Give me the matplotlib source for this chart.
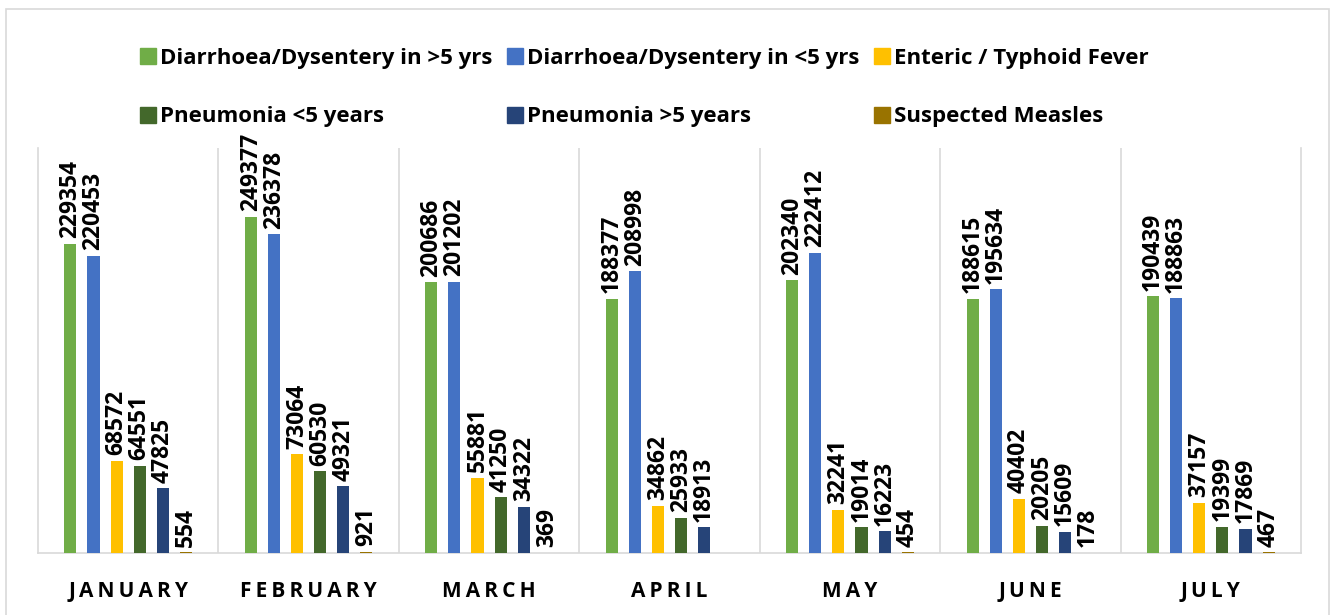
import numpy as np
import matplotlib
matplotlib.use("Agg")
import matplotlib.pyplot as plt
from matplotlib.lines import Line2D

plt.rcParams['font.family'] = ['Open Sans', 'DejaVu Sans']

months = ["JANUARY", "FEBRUARY", "MARCH", "APRIL", "MAY", "JUNE", "JULY"]
series_names = [
    "Diarrhoea/Dysentery in >5 yrs",
    "Diarrhoea/Dysentery in <5 yrs",
    "Enteric / Typhoid Fever",
    "Pneumonia <5 years",
    "Pneumonia >5 years",
    "Suspected Measles",
]
diarrhoea_over5 = [229354, 249377, 200686, 188377, 202340, 188615, 190439]
diarrhoea_under5 = [220453, 236378, 201202, 208998, 222412, 195634, 188863]
typhoid = [68572, 73064, 55881, 34862, 32241, 40402, 37157]
pneumonia_under5 = [64551, 60530, 41250, 25933, 19014, 20205, 19399]
pneumonia_over5 = [47825, 49321, 34322, 18913, 16223, 15609, 17869]
measles = [554, 921, 369, None, 454, 178, 467]

colors = ["#70AD47", "#4472C4", "#FFC000", "#43682B", "#264478", "#997300"]
all_series = [diarrhoea_over5, diarrhoea_under5, typhoid,
              pneumonia_under5, pneumonia_over5, measles]

fig = plt.figure(figsize=(13.31, 6.15), dpi=100)
ax = fig.add_axes([0.0285, 0.1008, 0.949, 0.658])

x = np.arange(len(months))
step = 0.128
width = 0.067
handles = []
for i, (vals, c, name) in enumerate(zip(all_series, colors, series_names)):
    pos = x + (i - 2.5) * step
    v = np.array([np.nan if a is None else a for a in vals], dtype=float)
    ax.bar(pos, v, width=width, color=c, zorder=3)
    for px, val in zip(pos, vals):
        if val is None:
            continue
        ax.annotate(str(val), (px, val), xytext=(0, 4), textcoords="offset points",
                    rotation=90, ha="center", va="bottom", fontsize=16.5,
                    fontweight="bold", color="black")
    handles.append(Line2D([], [], marker="s", linestyle="none", markersize=12,
                          markerfacecolor=c, markeredgecolor=c, label=name))

ax.set_xlim(-0.5, len(months) - 0.5)
ax.set_ylim(0, 300000)
ax.set_yticks([])
ax.set_xticks(x)
ax.set_xticklabels(["\u2009".join(m) for m in months], fontsize=15, fontweight="bold")
ax.tick_params(axis="x", length=0, pad=20)

# group separators
for b in np.arange(0.5, len(months) - 0.5, 1):
    ax.axvline(b, color="#d9d9d9", linewidth=1.2, zorder=1)
ax.spines["top"].set_visible(False)
for side in ["left", "right", "bottom"]:
    ax.spines[side].set_color("#d9d9d9")
    ax.spines[side].set_linewidth(1.2)

order = [0, 3, 1, 4, 2, 5]
fig.legend([handles[k] for k in order], [series_names[k] for k in order],
           ncol=3, loc="upper left", bbox_to_anchor=(0.088, 0.955),
           frameon=False, prop={"size": 16, "weight": "bold"},
           handletextpad=0.05, columnspacing=0.5, labelspacing=1.7,
           handlelength=1.0)

# outer chart border
border = plt.Rectangle((6 / 1331, -0.01), 1323 / 1331, 0.995, transform=fig.transFigure,
                       fill=False, edgecolor="#d9d9d9", linewidth=1.2)
fig.patches.append(border)

fig.savefig("out.png", dpi=100, facecolor="white")
